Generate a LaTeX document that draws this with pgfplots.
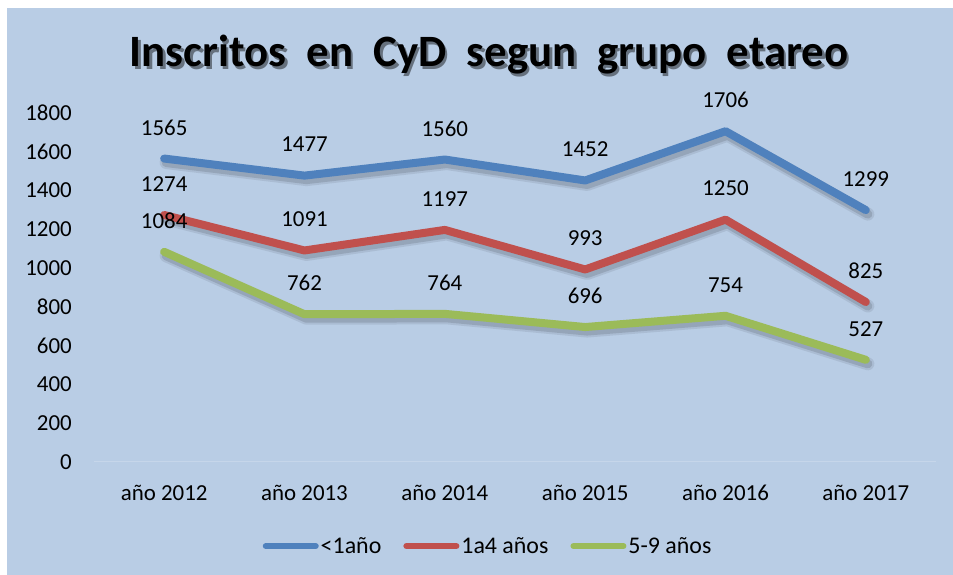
\documentclass[border=0pt]{standalone}
\usepackage{fontspec}
\setmainfont{Carlito}
\usepackage{pgfplots}
\pgfplotsset{compat=1.18}
\definecolor{bg}{HTML}{B9CDE5}
\definecolor{sblue}{HTML}{4F81BD}
\definecolor{sred}{HTML}{C0504D}
\definecolor{sgreen}{HTML}{9BBB59}
\definecolor{baseln}{HTML}{C6D6EA}
\newcommand\ttl{Inscritos\ \ en\ \ CyD\ \ segun\ \ grupo\ \ etareo}
\begin{document}
\begin{tikzpicture}[x=1bp,y=1bp]
\fill[white] (0,0) rectangle (953,575);
\useasboundingbox (0,0) rectangle (953,575);
\fill[bg] (7,0) rectangle (953,567);
\node[text=black, font=\fontsize{45}{47}\selectfont\bfseries] at (489,519) {\makebox[0pt][l]{\hspace{2.5bp}\raisebox{-2.5bp}{\textcolor{bg!55!black}{\ttl}}}\ttl};
\begin{axis}[
  at={(94bp,113bp)}, anchor=south west,
  width=842bp, height=349bp, scale only axis,
  xmin=-0.5, xmax=5.5, ymin=0, ymax=1800,
  xtick={0,1,2,3,4,5},
  xticklabels={año 2012,año 2013,año 2014,año 2015,año 2016,año 2017},
  ytick={0,200,...,1800},
  major tick length=0pt,
  axis x line*=bottom, axis y line*=left,
  x axis line style={draw=baseln, line width=1bp, -},
  y axis line style={draw=none},
  /pgf/number format/.cd, 1000 sep={}, assume math mode=true, /pgfplots/.cd,
  tick label style={font=\fontsize{23}{25}\selectfont},
  xticklabel style={anchor=center, yshift=-31bp},
  yticklabel style={anchor=east, inner sep=0pt, xshift=-22bp},
  nodes near coords style={font=\fontsize{23}{25}\selectfont, text=black, anchor=center, yshift=31bp, inner sep=0pt},
  clip=false,
  legend columns=3,
  legend style={draw=none, fill=none, font=\fontsize{24}{26}\selectfont,
    at={(0.468,-0.241)}, anchor=center,
    /tikz/every even column/.append style={column sep=20bp}},
  legend image code/.code={\draw[#1, line width=6bp, line cap=round] (0bp,0bp) -- (50bp,0bp);},
  every axis plot/.append style={line join=round, line cap=round, sharp plot},
]
% shadows
\addplot[forget plot, black, opacity=0.08, line width=13bp, transform canvas={xshift=2bp,yshift=-4bp}] coordinates {(0,1565) (1,1477) (2,1560) (3,1452) (4,1706) (5,1299)};
\addplot[forget plot, black, opacity=0.08, line width=13bp, transform canvas={xshift=2bp,yshift=-4bp}] coordinates {(0,1274) (1,1091) (2,1197) (3,993) (4,1250) (5,825)};
\addplot[forget plot, black, opacity=0.08, line width=13bp, transform canvas={xshift=2bp,yshift=-4bp}] coordinates {(0,1084) (1,762) (2,764) (3,696) (4,754) (5,527)};
\addplot[forget plot, black, opacity=0.12, line width=9bp, transform canvas={xshift=2bp,yshift=-4bp}] coordinates {(0,1565) (1,1477) (2,1560) (3,1452) (4,1706) (5,1299)};
\addplot[forget plot, black, opacity=0.12, line width=9bp, transform canvas={xshift=2bp,yshift=-4bp}] coordinates {(0,1274) (1,1091) (2,1197) (3,993) (4,1250) (5,825)};
\addplot[forget plot, black, opacity=0.12, line width=9bp, transform canvas={xshift=2bp,yshift=-4bp}] coordinates {(0,1084) (1,762) (2,764) (3,696) (4,754) (5,527)};
% series
\addplot[sblue, line width=8bp, nodes near coords] coordinates {(0,1565) (1,1477) (2,1560) (3,1452) (4,1706) (5,1299)};
\addlegendentry{<1año}
\addplot[sred, line width=8bp, nodes near coords] coordinates {(0,1274) (1,1091) (2,1197) (3,993) (4,1250) (5,825)};
\addlegendentry{1a4 años}
\addplot[sgreen, line width=8bp, nodes near coords] coordinates {(0,1084) (1,762) (2,764) (3,696) (4,754) (5,527)};
\addlegendentry{5-9 años}
\end{axis}
\end{tikzpicture}
\end{document}
